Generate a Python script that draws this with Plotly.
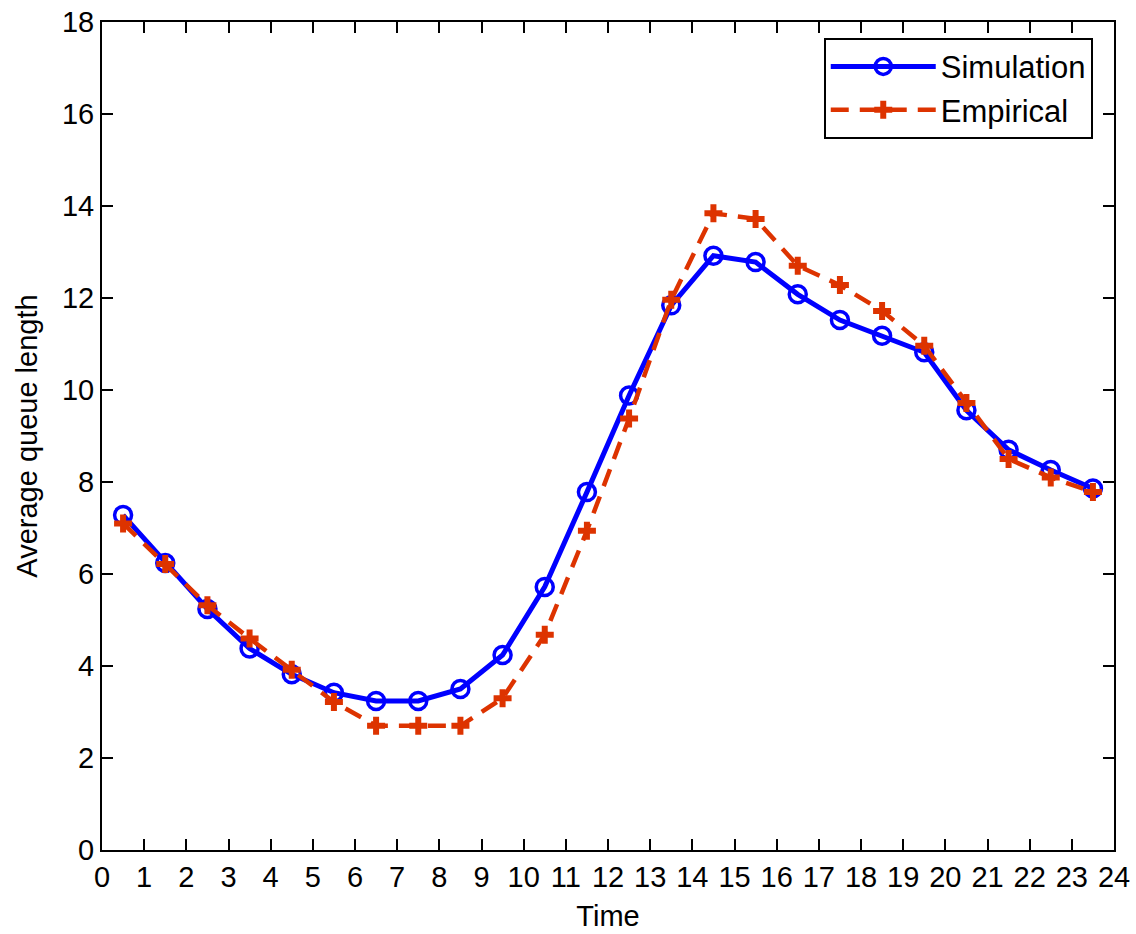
import plotly.graph_objects as go

# Hour-of-day midpoints
time = [0.5, 1.5, 2.5, 3.5, 4.5, 5.5, 6.5, 7.5, 8.5, 9.5, 10.5, 11.5,
        12.5, 13.5, 14.5, 15.5, 16.5, 17.5, 18.5, 19.5, 20.5, 21.5, 22.5, 23.5]

simulation = [7.28, 6.24, 5.24, 4.38, 3.82, 3.42, 3.24, 3.24, 3.50, 4.24, 5.72, 7.78,
              9.88, 11.84, 12.92, 12.78, 12.08, 11.52, 11.18, 10.82, 9.56, 8.70, 8.26, 7.86]

empirical = [7.10, 6.22, 5.32, 4.60, 3.92, 3.22, 2.70, 2.70, 2.70, 3.30, 4.68, 6.94,
             9.38, 11.96, 13.84, 13.72, 12.70, 12.28, 11.72, 10.96, 9.72, 8.50, 8.10, 7.78]

x_ticks = list(range(0, 25))
y_ticks = list(range(0, 19, 2))

BLUE = "#0000ff"
RED = "#dd3300"
FONT = "Liberation Sans, Arial, sans-serif"

fig = go.Figure()

fig.add_trace(go.Scatter(
    x=time, y=simulation, name="Simulation", mode="lines+markers",
    line=dict(color=BLUE, width=5),
    marker=dict(symbol="circle-open", size=17, color=BLUE, line=dict(width=3.5, color=BLUE)),
))

fig.add_trace(go.Scatter(
    x=time, y=empirical, name="Empirical", mode="lines+markers",
    line=dict(color=RED, width=4.5, dash="18px,11px"),
    marker=dict(symbol="cross", size=15, color=RED, line=dict(width=0)),
))

axis_common = dict(
    showgrid=False, zeroline=False, automargin=False,
    showline=True, linecolor="black", linewidth=2, mirror="allticks",
    ticks="inside", ticklen=11, tickwidth=2, tickcolor="black",
    tickfont=dict(family=FONT, size=29, color="black"),
)

fig.update_xaxes(
    range=[0, 24], tickmode="array", tickvals=x_ticks,
    title=dict(text="Time", font=dict(family=FONT, size=29, color="black"), standoff=14),
    **axis_common,
)
fig.update_yaxes(
    range=[0, 18], tickmode="array", tickvals=y_ticks,
    title=dict(text="Average queue length", font=dict(family=FONT, size=29, color="black"), standoff=16),
    **axis_common,
)

fig.update_layout(
    width=1136, height=934,
    margin=dict(l=102, r=22, t=22, b=84),
    paper_bgcolor="white", plot_bgcolor="white",
    font=dict(family=FONT, size=29, color="black"),
    legend=dict(
        x=0.979, y=0.981, xanchor="right", yanchor="top",
        bgcolor="white", bordercolor="black", borderwidth=2,
        font=dict(family=FONT, size=31, color="black"),
        itemwidth=105, tracegroupgap=0,
    ),
)

fig.write_html("out.html")
